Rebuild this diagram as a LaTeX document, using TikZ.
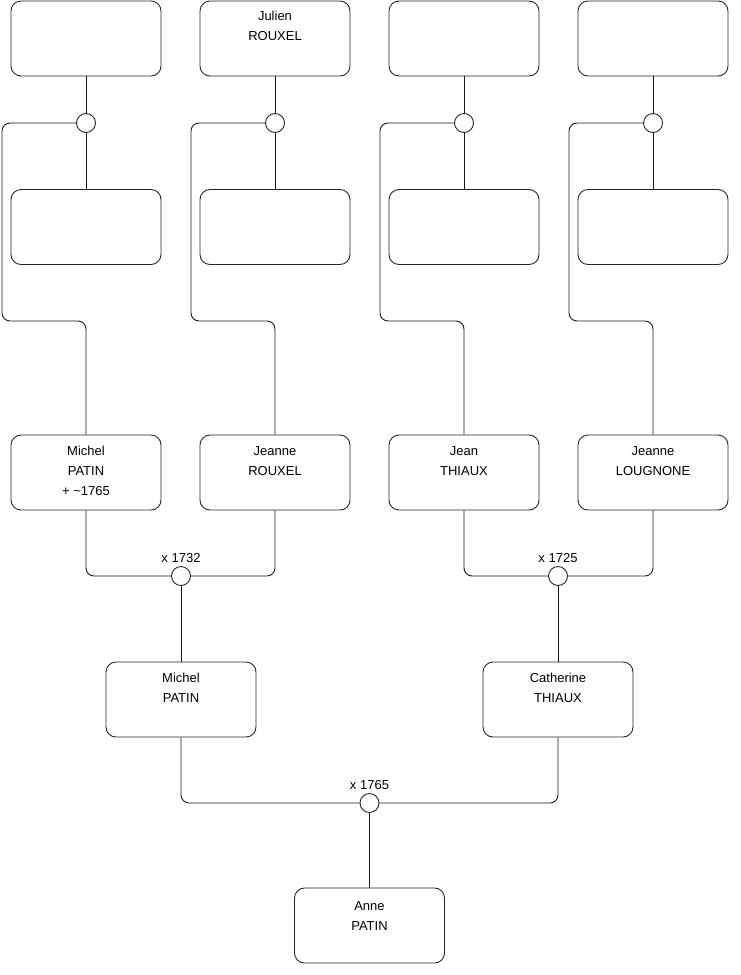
\documentclass[tikz,border=0pt]{standalone}
\usepackage{fontspec}
\setmainfont{Liberation Sans}
\begin{document}
\begin{tikzpicture}[x=1pt,y=-1pt,
  person/.style={draw=black!85, rounded corners=10pt, minimum width=150pt, minimum height=75pt, inner sep=0pt, line width=0.9pt},
  union/.style={draw=black!85, circle, minimum size=19pt, inner sep=0pt, fill=white, line width=0.9pt},
  pname/.style={anchor=north, align=center, inner sep=0pt, font=\fontsize{13}{20}\selectfont},
  ulabel/.style={anchor=south, inner sep=0pt, font=\fontsize{13}{16}\selectfont},
  link/.style={draw=black!90, line width=0.9pt, rounded corners=8pt}]
\useasboundingbox (0,0) rectangle (740,975);

% row 1
\node[person] (a1) at (86,38.5) {};
\node[person] (a2) at (275,38.5) {};
\node[person] (a3) at (464,38.5) {};
\node[person] (a4) at (653,38.5) {};
% unions row 1
\node[union] (c1) at (86,123) {};
\node[union] (c2) at (275,123) {};
\node[union] (c3) at (464,123) {};
\node[union] (c4) at (653,123) {};
% row 2
\node[person] (b1) at (86,227) {};
\node[person] (b2) at (275,227) {};
\node[person] (b3) at (464,227) {};
\node[person] (b4) at (653,227) {};
% row 3
\node[person] (m1) at (86,472.5) {};
\node[person] (j1) at (275,472.5) {};
\node[person] (t1) at (464,472.5) {};
\node[person] (l1) at (653,472.5) {};
% unions row 3
\node[union] (c5) at (181,576) {};
\node[union] (c6) at (558,576) {};
% row 4
\node[person] (mp) at (181,699.5) {};
\node[person] (ct) at (558,699.5) {};
% union bottom
\node[union] (c7) at (369.5,803) {};
% row 5
\node[person] (an) at (369.5,925.5) {};

% texts
\node[pname] (ta2) at ([yshift=-10pt]a2.north) {Julien\\ROUXEL};
\node[pname] (tm1) at ([yshift=-11.5pt]m1.north) {Michel\\PATIN\\+ \textasciitilde1765};
\node[pname] (tj1) at ([yshift=-11.5pt]j1.north) {Jeanne\\ROUXEL};
\node[pname] (tt1) at ([yshift=-11.5pt]t1.north) {Jean\\THIAUX};
\node[pname] (tl1) at ([yshift=-11.5pt]l1.north) {Jeanne\\LOUGNONE};
\node[pname] (tmp) at ([yshift=-11pt]mp.north) {Michel\\PATIN};
\node[pname] (tct) at ([yshift=-11pt]ct.north) {Catherine\\THIAUX};
\node[pname] (tan) at ([yshift=-13.5pt]an.north) {Anne\\PATIN};

\node[ulabel] (l5) at ([yshift=3.5pt]c5.north) {x 1732};
\node[ulabel] (l6) at ([yshift=3.5pt]c6.north) {x 1725};
\node[ulabel] (l7) at ([yshift=3.5pt]c7.north) {x 1765};

% connectors top
\draw[link] (a1) -- (c1);
\draw[link] (c1) -- (b1);
\draw[link] (a2) -- (c2);
\draw[link] (c2) -- (b2);
\draw[link] (a3) -- (c3);
\draw[link] (c3) -- (b3);
\draw[link] (a4) -- (c4);
\draw[link] (c4) -- (b4);

\draw[link] (c1.west) -| (2,321) -| (m1.north);
\draw[link] (c2.west) -| (191,321) -| (j1.north);
\draw[link] (c3.west) -| (380,321) -| (t1.north);
\draw[link] (c4.west) -| (569,321) -| (l1.north);

\draw[link] (m1.south) |- (c5.west);
\draw[link] (j1.south) |- (c5.east);
\draw[link] (t1.south) |- (c6.west);
\draw[link] (l1.south) |- (c6.east);
\draw[link] (c5) -- (mp);
\draw[link] (c6) -- (ct);

\draw[link] (mp.south) |- (c7.west);
\draw[link] (ct.south) |- (c7.east);
\draw[link] (c7) -- (an);
\end{tikzpicture}
\end{document}
